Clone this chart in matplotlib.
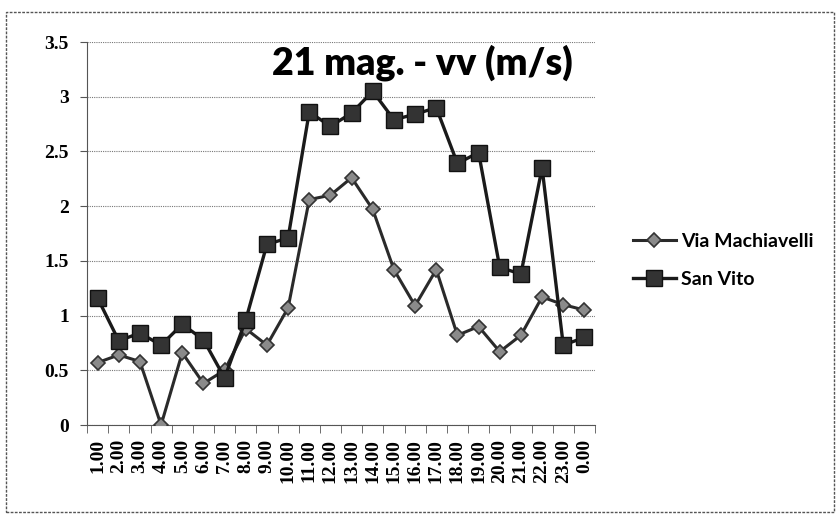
import matplotlib
matplotlib.use('Agg')
import matplotlib.pyplot as plt
from matplotlib.patches import Rectangle
import numpy as np

hours = ['1.00', '2.00', '3.00', '4.00', '5.00', '6.00', '7.00', '8.00', '9.00', '10.00',
         '11.00', '12.00', '13.00', '14.00', '15.00', '16.00', '17.00', '18.00', '19.00',
         '20.00', '21.00', '22.00', '23.00', '0.00']
via_machiavelli = [0.57, 0.64, 0.58, 0.0, 0.66, 0.38, 0.50, 0.88, 0.73, 1.07, 2.06, 2.10,
                   2.26, 1.97, 1.42, 1.09, 1.42, 0.82, 0.90, 0.67, 0.82, 1.17, 1.10, 1.05]
san_vito = [1.16, 0.77, 0.84, 0.73, 0.92, 0.78, 0.43, 0.96, 1.65, 1.71, 2.86, 2.73,
            2.85, 3.05, 2.79, 2.84, 2.90, 2.39, 2.49, 1.44, 1.38, 2.35, 0.73, 0.80]

fig = plt.figure(figsize=(8.38, 5.23), dpi=100)
ax = fig.add_axes([87 / 838, 1 - 425 / 523, (595 - 87) / 838, (425 - 42) / 523])

x = np.arange(len(hours))
ax.plot(x, via_machiavelli, color='#2a2a2a', lw=2.2, marker='D', ms=7,
        mfc='#8a8a8a', mec='#333333', mew=1.2, label='Via Machiavelli', zorder=3)
ax.plot(x, san_vito, color='#1a1a1a', lw=2.4, marker='s', ms=11,
        mfc='#333333', mec='#111111', mew=1, label='San Vito', zorder=4)

ax.set_xlim(-0.5, len(hours) - 0.5)
ax.set_ylim(0, 3.5)
ax.set_yticks(np.arange(0, 3.51, 0.5))
ax.set_yticklabels(['0', '0.5', '1', '1.5', '2', '2.5', '3', '3.5'],
                   fontfamily='Liberation Serif', fontweight='bold', fontsize=14)
ax.set_xticks(x)
ax.set_xticklabels(hours, rotation=90, fontfamily='Liberation Serif',
                   fontweight='bold', fontsize=14)
ax.tick_params(axis='x', length=0, pad=10)
ax.set_xticks(np.arange(-0.5, len(hours), 1), minor=True)
ax.tick_params(axis='x', which='minor', length=6, color='#555555')
ax.tick_params(axis='y', length=5, color='#555555', pad=8)

ax.grid(axis='y', color='#777777', lw=0.8, ls=(0, (1, 1)))
for s in ['top', 'right']:
    ax.spines[s].set_visible(False)
ax.spines['left'].set_color('#555555')
ax.spines['bottom'].set_color('#555555')
ax.spines['bottom'].set_linestyle((0, (2, 1)))

ax.text(0.66, 0.945, '21 mag. - vv (m/s)', transform=ax.transAxes, fontsize=27,
        fontweight='heavy', fontfamily='Lato', va='center', ha='center', zorder=5)

ax.legend(loc='center left', bbox_to_anchor=(1.04, 0.43), frameon=False,
          prop={'family': 'Lato', 'weight': 'bold', 'size': 14},
          handlelength=2.2, labelspacing=1.1, handletextpad=0.3)

fig.patches.append(Rectangle((6 / 838, 1 - 512 / 523), 828 / 838, 500 / 523,
                             transform=fig.transFigure, fill=False,
                             ec='#555555', lw=1, ls=(0, (2, 1))))

fig.savefig('out.png', dpi=100)
